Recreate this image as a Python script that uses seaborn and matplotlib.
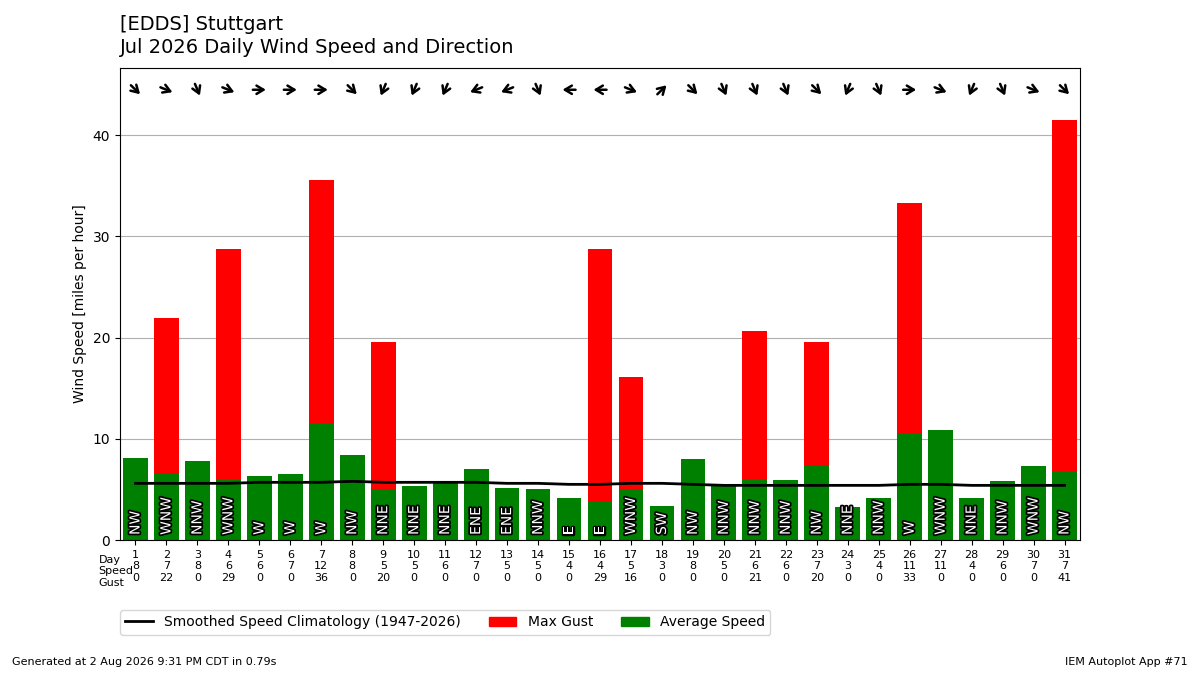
import numpy as np
import pandas as pd
import seaborn as sns
import matplotlib.pyplot as plt
import matplotlib.patheffects as pe
from matplotlib.lines import Line2D
from matplotlib.patches import Patch

days = list(range(1, 32))
avg_speed = [8.1, 6.6, 7.8, 5.9, 6.3, 6.5, 11.5, 8.4, 5.0, 5.3, 5.8, 7.0, 5.1, 5.0, 4.2, 3.8,
             5.0, 3.4, 8.0, 5.4, 6.0, 5.9, 7.4, 3.3, 4.2, 10.5, 10.9, 4.2, 5.8, 7.3, 6.8]
max_gust = [0, 21.9, 0, 28.8, 0, 0, 35.6, 0, 19.6, 0, 0, 0, 0, 0, 0, 28.8,
            16.1, 0, 0, 0, 20.7, 0, 19.6, 0, 0, 33.3, 0, 0, 0, 0, 41.5]
speed_lbl = [8, 7, 8, 6, 6, 7, 12, 8, 5, 5, 6, 7, 5, 5, 4, 4, 5, 3, 8, 5, 6, 6, 7, 3, 4, 11, 11, 4, 6, 7, 7]
gust_lbl = [0, 22, 0, 29, 0, 0, 36, 0, 20, 0, 0, 0, 0, 0, 0, 29, 16, 0, 0, 0, 21, 0, 20, 0, 0, 33, 0, 0, 0, 0, 41]
direction = ['NW', 'WNW', 'NNW', 'WNW', 'W', 'W', 'W', 'NW', 'NNE', 'NNE', 'NNE', 'ENE', 'ENE', 'NNW', 'E', 'E',
             'WNW', 'SW', 'NW', 'NNW', 'NNW', 'NNW', 'NW', 'NNE', 'NNW', 'W', 'WNW', 'NNE', 'NNW', 'WNW', 'NW']
climo = [5.6, 5.6, 5.6, 5.6, 5.7, 5.7, 5.7, 5.8, 5.7, 5.7, 5.7, 5.7, 5.6, 5.6, 5.5, 5.5,
         5.6, 5.6, 5.5, 5.4, 5.4, 5.4, 5.4, 5.4, 5.4, 5.5, 5.5, 5.4, 5.4, 5.4, 5.4]

compass = ['N', 'NNE', 'NE', 'ENE', 'E', 'ESE', 'SE', 'SSE', 'S', 'SSW', 'SW', 'WSW', 'W', 'WNW', 'NW', 'NNW']

df = pd.DataFrame({'day': days, 'avg': avg_speed, 'gust': max_gust})

fig = plt.figure(figsize=(12, 6.75), dpi=100)
ax = fig.add_axes([0.1, 0.2, 0.8, 0.7])
sns.barplot(data=df, x='day', y='gust', color='red', saturation=1, width=0.8, ax=ax)
sns.barplot(data=df, x='day', y='avg', color='green', saturation=1, width=0.8, ax=ax)
ax.plot(range(31), climo, color='black', lw=2)

for i, d in enumerate(direction):
    ax.text(i, 0.5, d, rotation=90, ha='center', va='bottom', color='white', fontsize=10,
            path_effects=[pe.withStroke(linewidth=2.5, foreground='black')])
    # arrow points downwind
    deg = compass.index(d) * 22.5
    dx = -np.sin(np.radians(deg))
    dy = -np.cos(np.radians(deg))
    ax.annotate('', xy=(i + dx * 0.3, 44.5 + dy * 0.9), xytext=(i - dx * 0.3, 44.5 - dy * 0.9),
                arrowprops=dict(arrowstyle='->,head_length=0.5,head_width=0.3', lw=1.8, color='black'))

ax.set_xlim(-0.5, 30.5)
ax.set_ylim(0, 46.7)
ax.set_yticks([0, 10, 20, 30, 40])
ax.yaxis.grid(True)
ax.set_axisbelow(True)
ax.set_xlabel('')
ax.set_ylabel('Wind Speed [miles per hour]')
ax.set_xticks(range(31))
ax.set_xticklabels([f'{d}\n{s}\n{g}' for d, s, g in zip(days, speed_lbl, gust_lbl)], fontsize=8)
fig.text(0.082, 0.178, 'Day\nSpeed\nGust', ha='left', va='top', fontsize=8, linespacing=1.2)

fig.text(0.1, 0.964, '[EDDS] Stuttgart', fontsize=14, va='center')
fig.text(0.1, 0.929, 'Jul 2026 Daily Wind Speed and Direction', fontsize=14, va='center')
fig.text(0.01, 0.015, 'Generated at 2 Aug 2026 9:31 PM CDT in 0.79s', fontsize=8)
fig.text(0.99, 0.015, 'IEM Autoplot App #71', fontsize=8, ha='right')

handles = [Line2D([], [], color='black', lw=2), Patch(color='red'), Patch(color='green')]
fig.legend(handles, ['Smoothed Speed Climatology (1947-2026)', 'Max Gust', 'Average Speed'],
           loc='center left', bbox_to_anchor=(0.094, 0.078), ncol=3, fontsize=10)

fig.savefig('out.png')
